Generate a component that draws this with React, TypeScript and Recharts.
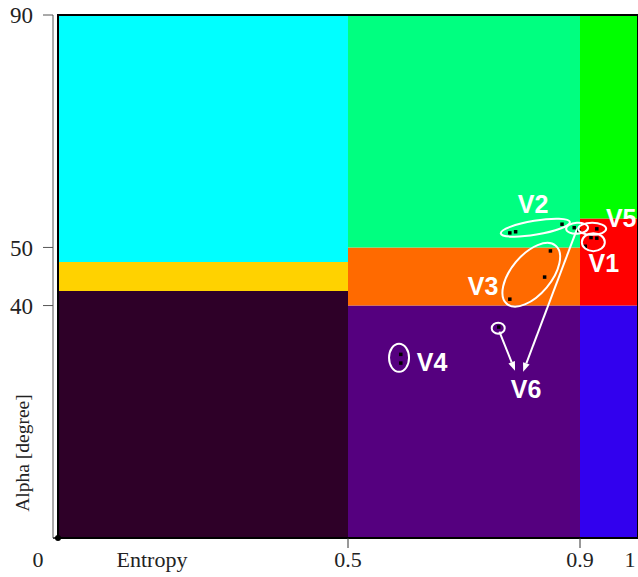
import React from 'react';
import { ComposedChart, XAxis, YAxis, Scatter, ReferenceArea, ReferenceDot, ReferenceLine } from 'recharts';

// H/alpha zones: entropy range, alpha range
const zoneH1 = [0, 0, 0, 0.5, 0.5, 0.5, 0.9, 0.9, 0.9];
const zoneH2 = [0.5, 0.5, 0.5, 0.9, 0.9, 0.9, 1, 1, 1];
const zoneA1 = [0, 42.5, 47.5, 0, 40, 50, 0, 40, 55];
const zoneA2 = [42.5, 47.5, 90, 40, 50, 90, 40, 55, 90];
const zoneColors = ['#2e0028', '#ffd200', '#00ffff', '#55007f', '#ff6a00', '#00ff80', '#3200ee', '#ff0000', '#00ff00'];

// sample points
const pointH = [0.779, 0.789, 0.869, 0.89, 0.898, 0.929, 0.919, 0.929, 0.909, 0.849, 0.839, 0.779, 0.76, 0.591, 0.591];
const pointAlpha = [52.5, 52.7, 54.0, 53.4, 52.9, 53.2, 51.7, 51.6, 50.2, 49.4, 44.9, 41.1, 36.3, 31.6, 30.1];

// cluster labels
const labelNames = ['V1', 'V2', 'V3', 'V4', 'V5', 'V6'];
const labelH = [0.941, 0.819, 0.733, 0.645, 0.971, 0.807];
const labelAlpha = [47.4, 57.5, 43.4, 30.3, 55.0, 25.6];

// ellipse centres around clusters
const ringH = [0.823, 0.895, 0.921, 0.923, 0.816, 0.759, 0.588];
const ringAlpha = [53.4, 53.3, 53.2, 50.9, 45.3, 36.1, 31.0];

// arrows to V6
const arrowFromH = [0.761, 0.895];
const arrowFromAlpha = [35.5, 53.2];
const arrowToH = [0.788, 0.802];
const arrowToAlpha = [28.8, 28.6];

const ringShape = [
  { rx: 35, ry: 7, tilt: -9.5 },
  { rx: 11, ry: 5.5, tilt: -4 },
  { rx: 14, ry: 6, tilt: 0 },
  { rx: 11.5, ry: 9, tilt: 0 },
  { rx: 38, ry: 20, tilt: -50 },
  { rx: 6.5, ry: 5.5, tilt: 0 },
  { rx: 10, ry: 14, tilt: 0 },
];

const zones = zoneH1.map((h1, i) => ({ h1, h2: zoneH2[i], a1: zoneA1[i], a2: zoneA2[i], color: zoneColors[i] }));
const points = pointH.map((x, i) => ({ x, y: pointAlpha[i] }));

const serif = 'Liberation Serif, Times New Roman, serif';

const EntropyTick = (props: any) => {
  const { x, y, payload } = props;
  const v = payload.value;
  const axisY = y - 13;
  // "0" sits left of the origin
  const tx = v === 0 ? x - 20 : v === 1 ? x - 4 : x;
  return (
    <g>
      {v > 0 && v < 1 && <line x1={x} x2={x} y1={axisY} y2={axisY + 10} stroke="#333" strokeWidth={1} />}
      <text x={tx} y={y} dy="0.71em" textAnchor="middle" fontFamily={serif} fontSize={22} fill="#222">
        {String(v)}
      </text>
    </g>
  );
};

const Arrow = (props: any) => {
  const { x1, y1, x2, y2 } = props;
  const ang = Math.atan2(y2 - y1, x2 - x1);
  const len = 9;
  const w = 3.5;
  const bx = x2 - len * Math.cos(ang);
  const by = y2 - len * Math.sin(ang);
  const px = -Math.sin(ang) * w;
  const py = Math.cos(ang) * w;
  return (
    <g>
      <line x1={x1} y1={y1} x2={bx} y2={by} stroke="#fff" strokeWidth={2} />
      <polygon points={`${x2},${y2} ${bx + px},${by + py} ${bx - px},${by - py}`} fill="#fff" />
    </g>
  );
};

export default function App() {
  return (
    <div style={{ position: 'absolute', left: 0, top: 0, width: 638, height: 577, overflow: 'hidden', background: '#fff' }}>
      <ComposedChart width={638} height={577} margin={{ top: 15, right: 0, bottom: 0, left: 0 }}>
        <XAxis
          type="number"
          dataKey="x"
          domain={[-5 / 580, 1]}
          allowDataOverflow
          ticks={[0, 0.5, 0.9, 1]}
          tick={<EntropyTick />}
          tickLine={false}
          tickSize={10}
          tickMargin={3}
          height={39}
          stroke="#000"
          strokeWidth={1.5}
          label={{
            value: 'Entropy',
            content: (p: any) => (
              <text x={p.viewBox.x + 99} y={p.viewBox.y + 13} dy="0.71em" textAnchor="middle" fontFamily={serif} fontSize={22} fill="#222">
                Entropy
              </text>
            ),
          }}
        />
        <YAxis
          type="number"
          dataKey="y"
          domain={[0, 90]}
          ticks={[40, 50, 90]}
          width={53}
          tickSize={10}
          tickMargin={10}
          stroke="#555"
          tick={{ fontFamily: serif, fontSize: 23, fill: '#222' }}
          label={{
            value: 'Alpha [degree]',
            content: (p: any) => {
              const cx = p.viewBox.x + 22;
              const cy = p.viewBox.y + p.viewBox.height - 85;
              return (
                <text x={cx} y={cy} dy="0.35em" textAnchor="middle" transform={`rotate(-90 ${cx} ${cy})`} fontFamily={serif} fontSize={19.5} fill="#222">
                  Alpha [degree]
                </text>
              );
            },
          }}
        />
        {zones.map((z, i) => (
          <ReferenceArea key={`z${i}`} x1={z.h1} x2={z.h2} y1={z.a1} y2={z.a2} fill={z.color} fillOpacity={1} stroke="none" />
        ))}
        <ReferenceArea x1={0} x2={1} y1={0} y2={90} fill="none" stroke="#000" strokeWidth={2} />
        <Scatter
          data={points}
          isAnimationActive={false}
          shape={(p: any) => <rect x={p.cx - 1.75} y={p.cy - 1.75} width={3.5} height={3.5} fill="#000" />}
        />
        {ringH.map((h, i) => (
          <ReferenceDot
            key={`r${i}`}
            x={h}
            y={ringAlpha[i]}
            shape={(p: any) => (
              <ellipse
                cx={p.cx}
                cy={p.cy}
                rx={ringShape[i].rx}
                ry={ringShape[i].ry}
                transform={`rotate(${ringShape[i].tilt} ${p.cx} ${p.cy})`}
                fill="none"
                stroke="#fff"
                strokeWidth={2}
              />
            )}
          />
        ))}
        {arrowFromH.map((h, i) => (
          <ReferenceLine
            key={`a${i}`}
            segment={[
              { x: h, y: arrowFromAlpha[i] },
              { x: arrowToH[i], y: arrowToAlpha[i] },
            ]}
            shape={(p: any) => <Arrow {...p} />}
          />
        ))}
        {labelNames.map((name, i) => (
          <ReferenceDot
            key={`l${i}`}
            x={labelH[i]}
            y={labelAlpha[i]}
            shape={(p: any) => (
              <text x={p.cx} y={p.cy} dy="0.36em" textAnchor="middle" fontFamily="Liberation Sans, Arial, sans-serif" fontWeight="bold" fontSize={25} fill="#fff">
                {name}
              </text>
            )}
          />
        ))}
        <ReferenceDot x={0} y={0} r={3} fill="#000" stroke="none" ifOverflow="visible" />
      </ComposedChart>
    </div>
  );
}
